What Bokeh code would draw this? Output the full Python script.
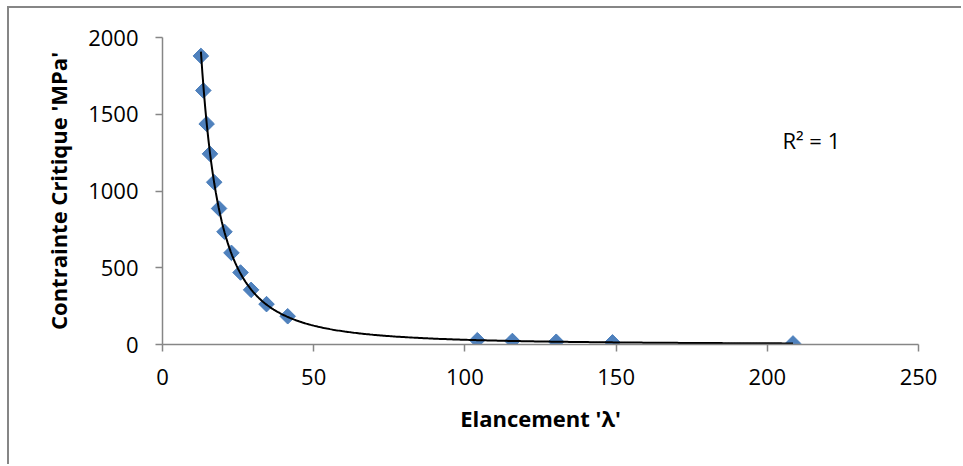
import numpy as np
from bokeh.plotting import figure
from bokeh.models import FixedTicker, Range1d, Label, ColumnDataSource
from bokeh.embed import file_html
from bokeh.resources import INLINE

# Data
elancement = [12.7, 13.5, 14.6, 15.7, 17.1, 18.7, 20.5, 22.8, 25.8, 29.3, 34.4, 41.4,
              104.1, 115.7, 130.2, 148.8, 208.5]
contrainte = [1880, 1655, 1437, 1242, 1057, 886, 734, 597, 469, 356, 263, 184,
              28, 23, 18, 14, 7]
x_ticks = [0, 50, 100, 150, 200, 250]
y_ticks = [0, 500, 1000, 1500, 2000]
x_title = "Elancement 'λ'"
y_title = "Contrainte Critique 'MPa'"
r2_text = "R² = 1"

FONT = "Open Sans"
OFF_X, OFF_Y = 9, 8  # chart-area margin + border

p = figure(width=963 - OFF_X, height=466 - OFF_Y, output_backend="svg", toolbar_location=None,
           x_range=Range1d(0, 250), y_range=Range1d(0, 2000),
           min_border_left=162 - OFF_X, min_border_right=45, min_border_top=37 - OFF_Y,
           min_border_bottom=122)
p.styles = {"margin-left": "7px", "margin-top": "6px",
            "border-left": "2px solid #868686", "border-top": "2px solid #868686"}
p.outline_line_color = None
p.xgrid.visible = False
p.ygrid.visible = False
p.background_fill_color = "white"
p.border_fill_color = "white"

for ax, ticks in ((p.xaxis[0], x_ticks), (p.yaxis[0], y_ticks)):
    ax.ticker = FixedTicker(ticks=ticks)
    ax.minor_tick_line_color = None
    ax.major_tick_in = 0
    ax.major_tick_out = 7
    ax.axis_line_color = "#868686"
    ax.major_tick_line_color = "#868686"
    ax.axis_line_width = 1.5
    ax.major_tick_line_width = 1.5
    ax.major_label_text_font = FONT
    ax.major_label_text_font_size = "22px"
    ax.major_label_text_color = "black"
    ax.axis_label_text_font = FONT
    ax.axis_label_text_font_size = "22px"
    ax.axis_label_text_font_style = "bold"
    ax.axis_label_text_color = "black"

p.xaxis.axis_label = x_title
p.yaxis.axis_label = y_title
p.xaxis.major_label_standoff = 17
p.yaxis.major_label_standoff = 17
p.xaxis.axis_label_standoff = 15
p.yaxis.axis_label_standoff = 12

# Data points
src = ColumnDataSource(dict(x=elancement, y=contrainte))
p.scatter("x", "y", source=src, marker="square", size=11, angle=np.pi / 4,
          fill_color="#4F81BD", line_color="#4A7EBB", line_width=1)

# Power trendline fitted from the data
lx = np.log(np.array(elancement, dtype=float))
ly = np.log(np.array(contrainte, dtype=float))
b, ln_a = np.polyfit(lx, ly, 1)
xs = np.linspace(min(elancement), max(elancement), 400)
ys = np.exp(ln_a) * xs ** b
p.line(xs, ys, line_color="black", line_width=2)

p.add_layout(Label(x=205, y=1331, text=r2_text, text_font=FONT, text_font_size="22px",
                   text_baseline="middle", text_align="left", text_color="black"))

open("out.html", "w").write(file_html(p, INLINE))
